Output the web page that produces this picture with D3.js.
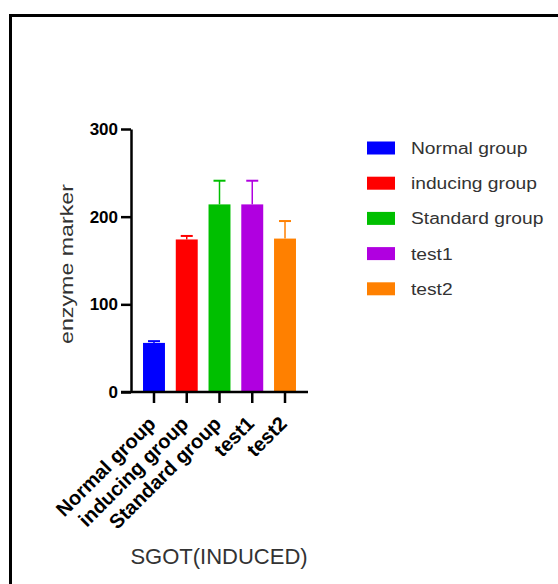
<!DOCTYPE html>
<html><head><meta charset="utf-8">
<script src="https://cdn.jsdelivr.net/npm/d3@7"></script>
<style>body{margin:0;background:#fff}svg{display:block}</style>
</head><body>
<svg id="c" width="558" height="584"></svg>
<script>
const categories = ["Normal group","inducing group","Standard group","test1","test2"];
const means = [56, 174, 214, 214, 175];
const errors = [2, 4, 27, 27, 20];
const colors = ["#0000ff","#ff0000","#00bf00","#b000e0","#ff8000"];
const yTicks = [0,100,200,300];
const legendLabels = ["Normal group","inducing group","Standard group","test1","test2"];
const yLabel = "enzyme marker";
const title = "SGOT(INDUCED)";

const FONT = "Liberation Sans, Arial, sans-serif";
const svg = d3.select("#c");
// frame
svg.append("path").attr("d","M10.5,600 V15.5 H600").attr("fill","none").attr("stroke","#000").attr("stroke-width",3);

const x = d3.scaleBand().domain(categories).range([131,308]).paddingInner(0.33).paddingOuter(0.367);
const y = d3.scaleLinear().domain([0,300]).range([392,129]);

// bars
svg.selectAll("rect.bar").data(categories).join("rect")
  .attr("x", d=>x(d)).attr("width", x.bandwidth())
  .attr("y", (d,i)=>y(means[i])).attr("height",(d,i)=>y(0)-y(means[i]))
  .attr("fill",(d,i)=>colors[i]);
// error bars
categories.forEach((c,i)=>{
  const cx = x(c)+x.bandwidth()/2;
  svg.append("line").attr("x1",cx).attr("x2",cx).attr("y1",y(means[i])).attr("y2",y(means[i]+errors[i])).attr("stroke",colors[i]).attr("stroke-width",1.5);
  svg.append("line").attr("x1",cx-6).attr("x2",cx+6).attr("y1",y(means[i]+errors[i])).attr("y2",y(means[i]+errors[i])).attr("stroke",colors[i]).attr("stroke-width",2);
});

// y axis
const ya = svg.append("g").attr("transform","translate(131,0)")
  .call(d3.axisLeft(y).tickValues(yTicks).tickSize(10).tickSizeOuter(0).tickPadding(3));
ya.select(".domain").attr("stroke","#000").attr("stroke-width",2.5);
ya.selectAll(".tick line").attr("stroke","#000").attr("stroke-width",2.5);
ya.selectAll(".tick text").attr("font-family",FONT).attr("font-weight","bold").attr("font-size",17).attr("fill","#000");

// x axis
const xa = svg.append("g").attr("transform","translate(0,392)")
  .call(d3.axisBottom(x).tickSize(11).tickSizeOuter(0).tickPadding(0));
xa.select(".domain").attr("d","M121,0H308").attr("stroke","#000").attr("stroke-width",2.5);
xa.selectAll(".tick line").attr("stroke","#000").attr("stroke-width",2.5);
xa.selectAll(".tick text").attr("font-family",FONT).attr("font-weight","bold").attr("font-size",20).attr("fill","#000")
  .attr("text-anchor","end").attr("x",0).attr("y",0).attr("dy","0").attr("transform","translate(3,33) rotate(-45)");

// y label
svg.append("text").attr("transform","translate(73,264) rotate(-90)").attr("text-anchor","middle")
  .attr("font-family",FONT).attr("font-size",19).attr("fill","#333")
  .attr("textLength",160).attr("lengthAdjust","spacingAndGlyphs").text(yLabel);

// title
svg.append("text").attr("x",219).attr("y",564).attr("text-anchor","middle")
  .attr("font-family",FONT).attr("font-size",22).attr("fill","#333").text(title);

// legend
const lg = svg.append("g");
legendLabels.forEach((l,i)=>{
  const cy = 148 + i*35.2;
  lg.append("rect").attr("x",367).attr("y",cy-6.5).attr("width",28).attr("height",13).attr("fill",colors[i]);
  const t = lg.append("text").attr("x",411).attr("y",cy+6).attr("font-family",FONT).attr("font-size",16).attr("fill","#333").text(l);
  const w = t.node().getComputedTextLength();
  t.attr("textLength", w*1.2).attr("lengthAdjust","spacingAndGlyphs");
});
</script>
</body></html>
